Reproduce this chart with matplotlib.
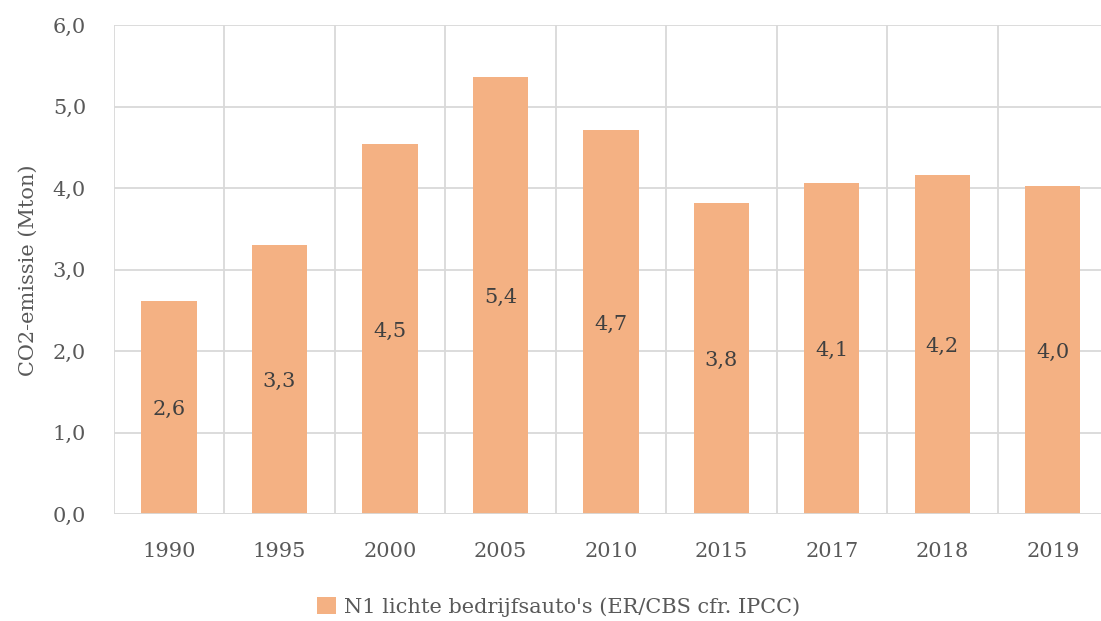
import matplotlib
matplotlib.use("Agg")
import matplotlib.pyplot as plt
from matplotlib.patches import Patch

years = ["1990", "1995", "2000", "2005", "2010", "2015", "2017", "2018", "2019"]
emissions = [2.62, 3.30, 4.54, 5.36, 4.71, 3.82, 4.06, 4.16, 4.03]
y_ticks = [0, 1, 2, 3, 4, 5, 6]
series_name = "N1 lichte bedrijfsauto's (ER/CBS cfr. IPCC)"
y_label = "CO2-emissie (Mton)"

bar_color = "#F4B183"
text_color = "#595959"
grid_color = "#D9D9D9"
font = "DejaVu Serif"
fs = 15

fig = plt.figure(figsize=(11.01, 6.21), dpi=100)
ax = fig.add_axes([113.8 / 1101, (621 - 514.2) / 621, (1108 - 113.8) / 1101, 489 / 621])

x = list(range(len(years)))
ax.bar(x, emissions, width=0.5, color=bar_color, zorder=3)

ax.set_xlim(-0.5, len(years) - 0.5)
ax.set_ylim(0, 6)
ax.set_yticks(y_ticks)
ax.set_yticklabels([f"{v:.1f}".replace(".", ",") for v in y_ticks],
                   fontsize=fs, color=text_color, family=font)
ax.set_xticks(x)
ax.set_xticklabels(years, fontsize=fs, color=text_color, family=font)
ax.tick_params(axis="both", length=0)
ax.tick_params(axis="x", pad=20)
ax.tick_params(axis="y", pad=20)

for b in range(len(years) + 1):
    ax.axvline(b - 0.5, color=grid_color, lw=1.3, zorder=1)
ax.yaxis.grid(True, color=grid_color, lw=1.3, zorder=1)
ax.set_axisbelow(True)
for s in ax.spines.values():
    s.set_visible(False)
ax.axhline(0, color=grid_color, lw=1.3, zorder=4)

for xi, v in zip(x, emissions):
    ax.text(xi, v / 2, f"{v:.1f}".replace(".", ","), ha="center", va="center_baseline",
            fontsize=fs, color="#404040", family=font, zorder=5)

fig.text(28 / 1101, 1 - 270 / 621, y_label, rotation=90, ha="center", va="center",
         fontsize=fs, color=text_color, family=font)

handle = Patch(facecolor=bar_color, edgecolor="none")
fig.legend([handle], [series_name], loc="center", bbox_to_anchor=(559 / 1101, 1 - 607 / 621),
           frameon=False, prop={"family": font, "size": fs}, labelcolor=text_color,
           handlelength=0.9, handleheight=0.9, handletextpad=0.4)

fig.savefig("out.png", dpi=100)
